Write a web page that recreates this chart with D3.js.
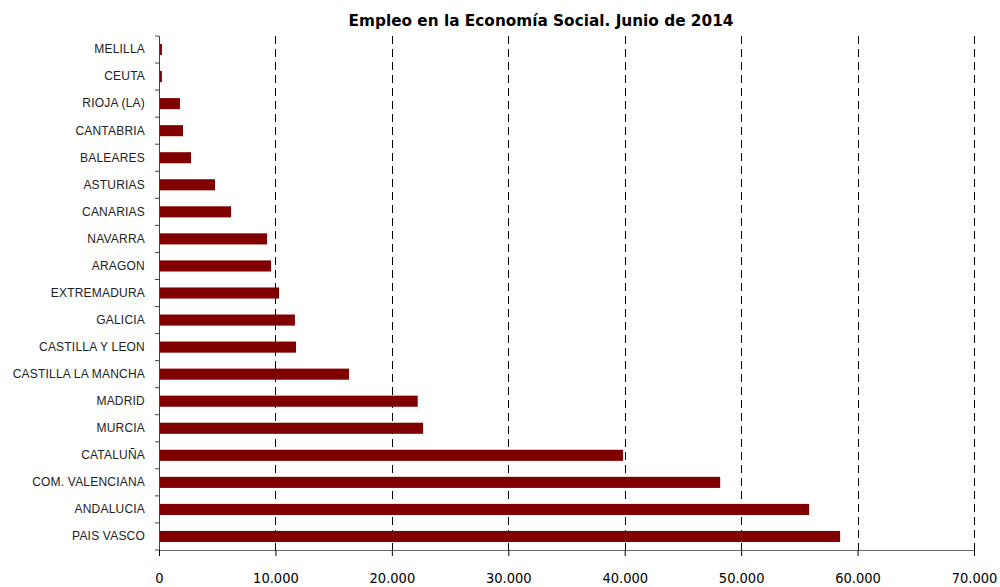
<!DOCTYPE html>
<html><head><meta charset="utf-8">
<script src="https://cdn.jsdelivr.net/npm/d3@7"></script>
<style>body{margin:0;background:#fff;}svg{display:block;}</style>
</head><body>
<svg id="chart" width="1000" height="587"></svg>
<script>
const categories = ["MELILLA","CEUTA","RIOJA (LA)","CANTABRIA","BALEARES","ASTURIAS","CANARIAS","NAVARRA","ARAGON","EXTREMADURA","GALICIA","CASTILLA Y LEON","CASTILLA LA MANCHA","MADRID","MURCIA","CATALUÑA","COM. VALENCIANA","ANDALUCIA","PAIS VASCO"];
const values = [250,250,1800,2060,2750,4810,6190,9280,9620,10310,11680,11770,16320,22220,22680,39860,48200,55840,58500];
const xTicks = [0,10000,20000,30000,40000,50000,60000,70000];
const title = "Empleo en la Economía Social. Junio de 2014";

(function(){
const svg = d3.select("#chart");
const mL = 159, mR = 974, mT = 36, mB = 550;
const x = d3.scaleLinear().domain([0,70000]).range([mL,mR]);
const y = d3.scaleBand().domain(categories).range([mT,mB]).paddingInner(0.59).paddingOuter(0.295);
const band = d3.scaleBand().domain(categories).range([mT,mB]);
const fmt = v => d3.format(",")(v).replace(/,/g,".");

// gridlines
svg.append("g").selectAll("line").data(xTicks.slice(1)).join("line")
  .attr("x1",d=>Math.round(x(d))+0.5).attr("x2",d=>Math.round(x(d))+0.5)
  .attr("y1",mT).attr("y2",mB)
  .attr("stroke","#000").attr("stroke-width",1).attr("stroke-dasharray","8,5");

// bars
svg.append("g").selectAll("rect").data(categories).join("rect")
  .attr("x",x(0)).attr("y",d=>y(d))
  .attr("width",(d,i)=>x(values[i])-x(0)).attr("height",y.bandwidth())
  .attr("fill","#800000");

// x axis
const xAxis = d3.axisBottom(x).tickValues(xTicks).tickFormat(fmt).tickSize(6).tickPadding(17);
const gx = svg.append("g").attr("transform",`translate(0,${mB})`).call(xAxis);
gx.select(".domain").attr("stroke","#666").attr("d",`M${mL},0.5H${mR}`);
gx.selectAll(".tick line").attr("stroke","#000");
gx.selectAll(".tick text").attr("font-family","'DejaVu Sans Condensed','DejaVu Sans',sans-serif")
  .attr("font-size",14.5).attr("fill","#000");

// y axis
const yAxis = d3.axisLeft(band).tickSize(0).tickPadding(14);
const gy = svg.append("g").attr("transform",`translate(${mL},0)`).call(yAxis);
gy.select(".domain").attr("stroke","#444").attr("d",`M0.5,${mT}V${mB}`);
gy.selectAll(".tick text").attr("font-family","'Liberation Sans',Arial,sans-serif")
  .attr("font-size",12).attr("fill","#222").attr("letter-spacing","0.2px");
// y ticks at band boundaries
svg.append("g").selectAll("line").data(d3.range(categories.length+1)).join("line")
  .attr("x1",mL-4).attr("x2",mL).attr("y1",i=>mT+i*band.step()).attr("y2",i=>mT+i*band.step())
  .attr("stroke","#444");

svg.append("text").attr("x",541).attr("y",26).attr("text-anchor","middle")
  .attr("font-family","'DejaVu Sans',sans-serif").attr("font-weight","bold").attr("font-size",15.3)
  .text(title);
})();
</script>
</body></html>
